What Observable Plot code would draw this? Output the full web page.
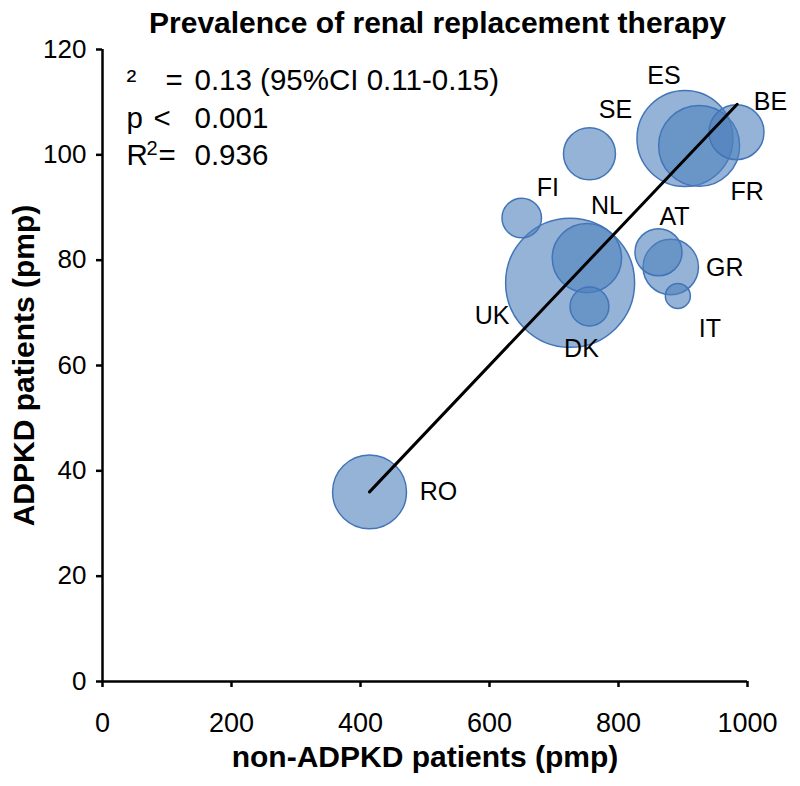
<!DOCTYPE html>
<html><head><meta charset="utf-8">
<script src="https://cdn.jsdelivr.net/npm/d3@7"></script>
<script src="https://cdn.jsdelivr.net/npm/@observablehq/plot@0.6"></script>
<style>
body{margin:0;background:#fff;font-family:"Liberation Sans",Arial,sans-serif;}
#title{height:40px;line-height:46px;font-size:30px;font-weight:bold;text-align:center;width:800px;padding-left:75px;box-sizing:border-box;color:#000;white-space:nowrap;}
</style></head><body>
<div id="title">Prevalence of renal replacement therapy</div>
<div id="chart"></div>
<script>
// ---- data ----
const countries = ["UK","RO","ES","FR","NL","GR","BE","SE","AT","FI","DK","IT"];
const nonAdpkd  = [725, 414, 903, 925, 751, 881, 983, 755, 862, 650, 755, 892];   // pmp
const adpkd     = [75.7, 36.0, 103.1, 101.7, 80.4, 78.7, 104.3, 100.2, 81.5, 88.0, 71.2, 73.2]; // pmp
const population = [64, 21, 35.4, 25.2, 18.5, 11.8, 11.6, 10.4, 8.5, 6.0, 5.8, 2.4]; // bubble size (millions)
const fitX = [414, 984];
const fitY = [36.0, 109.6];
const xTicks = [0, 200, 400, 600, 800, 1000];
const yTicks = [0, 20, 40, 60, 80, 100, 120];
const statSymbols = ["²", "p", "R"];
const statSup = ["", "", "2"];
const statOps = ["=", "<", "="];
const statValues = ["0.13 (95%CI 0.11-0.15)", "0.001", "0.936"];
const xLabel = "non-ADPKD patients (pmp)";
const yLabel = "ADPKD patients (pmp)";

// ---- layout (label offsets in px) ----
const labelOffsets = {
  UK:[-78,33], RO:[69,0], ES:[-21,-63], FR:[48,46], NL:[20,-52], GR:[54,1],
  BE:[34,-30], SE:[26,-44], AT:[16,-35], FI:[26,-30], DK:[-8,42], IT:[32,33]
};
const opDx = [63, 51, 56];
const rowDy = [31, 69, 106];

const data = countries.map((c, i) => ({country: c, x: nonAdpkd[i], y: adpkd[i], pop: population[i]}));
const fit = fitX.map((x, i) => ({x, y: fitY[i]}));

const marks = [
  Plot.dot(data, {x: "x", y: "y", r: "pop", fill: "#4f81bd", fillOpacity: 0.6, stroke: "#4275b8", strokeWidth: 1.5}),
  Plot.line(fit, {x: "x", y: "y", stroke: "#000", strokeWidth: 3}),
  Plot.ruleY([0], {stroke: "#000", strokeWidth: 2.5}),
  Plot.ruleX([0], {stroke: "#000", strokeWidth: 2.5}),
  Plot.axisX({ticks: xTicks, tickFormat: d => `${d}`, tickSize: 6, tickPadding: 25, fontSize: 27, strokeWidth: 2.5, label: null}),
  Plot.axisY({ticks: yTicks, tickFormat: d => `${d}`, tickSize: 6, tickPadding: 10, fontSize: 26, strokeWidth: 2.5, label: null}),
  Plot.text([xLabel], {frameAnchor: "bottom", dy: 76, fontSize: 30, fontWeight: "bold", lineAnchor: "middle", textAnchor: "middle"}),
  Plot.text([yLabel], {frameAnchor: "left", dx: -78, rotate: -90, fontSize: 30, fontWeight: "bold", lineAnchor: "middle", textAnchor: "middle"})
];
data.forEach(d => {
  const [dx, dy] = labelOffsets[d.country];
  marks.push(Plot.text([d], {x: "x", y: "y", text: "country", dx, dy, fontSize: 25, lineAnchor: "middle", fill: "#000"}));
});
statSymbols.forEach((s, i) => {
  const base = {frameAnchor: "top-left", textAnchor: "start", lineAnchor: "middle", fontSize: 29.5, dy: rowDy[i]};
  marks.push(Plot.text([s], {...base, dx: 24}));
  if (statSup[i]) marks.push(Plot.text([statSup[i]], {...base, fontSize: 20, dx: 44, dy: rowDy[i] - 7}));
  marks.push(Plot.text([statOps[i]], {...base, dx: opDx[i]}));
  marks.push(Plot.text([statValues[i]], {...base, dx: 92}));
});

const chart = Plot.plot({
  width: 800,
  height: 746,
  marginLeft: 102,
  marginRight: 53,
  marginTop: 9,
  marginBottom: 105,
  style: {fontFamily: "Liberation Sans, Arial, sans-serif", fontSize: "26px", overflow: "visible", background: "white", color: "#000"},
  x: {domain: [0, 1000]},
  y: {domain: [0, 120]},
  r: {type: "sqrt", domain: [0, 64], range: [0, 64.5]},
  marks
});
document.getElementById("chart").appendChild(chart);
</script>
</body></html>
